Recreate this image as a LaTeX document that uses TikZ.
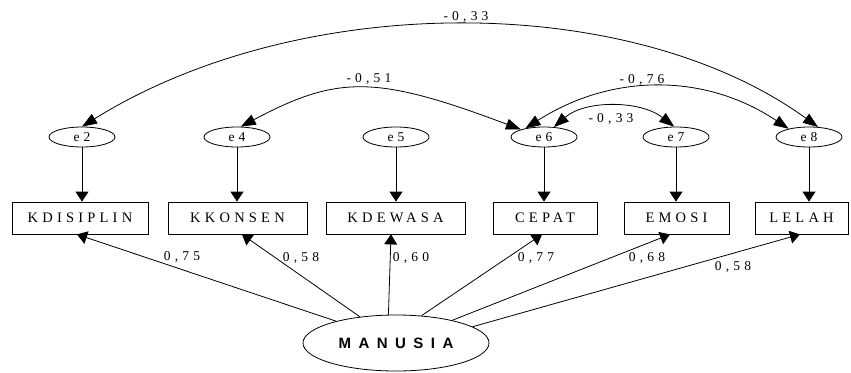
\documentclass[tikz,border=0pt]{standalone}
\usepackage{fontspec}
\setmainfont{Liberation Serif}
\newfontfamily\boxfont[LetterSpace=29]{Liberation Serif}
\newfontfamily\numfont[LetterSpace=31]{Liberation Serif}
\newfontfamily\latfont[LetterSpace=50]{Liberation Sans}
\usetikzlibrary{arrows.meta,shapes.geometric}
\begin{document}
\begin{tikzpicture}[x=1pt,y=-1pt,
  every path/.style={line width=0.8pt},
  obs/.style={draw, rectangle, minimum height=32pt, inner sep=0pt, font=\boxfont\fontsize{14.5}{16}\selectfont},
  err/.style={draw, ellipse, minimum width=66pt, minimum height=20pt, inner sep=0pt, font=\numfont\fontsize{13.5}{15}\selectfont},
  lat/.style={draw, ellipse, minimum width=186pt, minimum height=56pt, inner sep=0pt, font=\latfont\bfseries\fontsize{15}{17}\selectfont},
  lbl/.style={inner sep=0pt, font=\numfont\fontsize{13.5}{15}\selectfont},
  arr/.style={-{Triangle[length=10pt,width=13pt]}},
  darr/.style={{Triangle[length=15pt,width=11pt]}-{Triangle[length=15pt,width=11pt]}}
]
\useasboundingbox (0,0) rectangle (851,372);
% error terms
\node[err] (e2) at (82,137) {e2};
\node[err] (e4) at (237,137) {e4};
\node[err] (e5) at (396,137) {e5};
\node[err] (e6) at (544,137) {e6};
\node[err] (e7) at (676,137) {e7};
\node[err] (e8) at (809,137) {e8};
% observed
\node[obs, minimum width=136pt] (kd) at (80,218) {KDISIPLIN};
\node[obs, minimum width=139pt] (kk) at (237.5,218) {KKONSEN};
\node[obs, minimum width=139pt] (kw) at (395.5,218) {KDEWASA};
\node[obs, minimum width=104pt] (ce) at (545,218) {CEPAT};
\node[obs, minimum width=105pt] (em) at (676.5,218) {EMOSI};
\node[obs, minimum width=93pt] (le) at (801.5,218) {LELAH};
% latent
\node[lat] (M) at (396,343) {MANUSIA};
% error arrows
\draw[arr] (e2) -- (e2 |- kd.north);
\draw[arr] (e4) -- (e4 |- kk.north);
\draw[arr] (e5) -- (e5 |- kw.north);
\draw[arr] (e6) -- (e6 |- ce.north);
\draw[arr] (e7) -- (e7 |- em.north);
\draw[arr] (e8) -- (e8 |- le.north);
% loadings
\draw[arr] (M.160) -- ([xshift=-3pt]kd.south);
\draw[arr] (M.144) -- ([xshift=4.5pt]kk.south);
\draw[arr] (M.105) -- ([xshift=-4.5pt]kw.south);
\draw[arr] (M.47) -- ([xshift=-3pt]ce.south);
\draw[arr] (M.22) -- ([xshift=-6.5pt]em.south);
\draw[arr] (M.12) -- ([xshift=-1.5pt]le.south);
\node[lbl] (l1) at (182,257) {0,75};
\node[lbl] (l2) at (301,258) {0,58};
\node[lbl] (l3) at (411,258) {0,60};
\node[lbl] (l4) at (536,258) {0,77};
\node[lbl] (l5) at (647,258) {0,68};
\node[lbl] (l6) at (733,267) {0,58};
% correlations
\draw[darr] (e2.north) .. controls (300,-9) and (630,-9) .. (e8.48);
\node[lbl] (c1) at (466,17) {-0,33};
\draw[darr] (e4.70) .. controls (338,75) and (376,75) .. (e6.162);
\node[lbl] (c2) at (369,79) {-0,51};
\draw[darr] (e6.155) .. controls (612,73) and (705,73) .. (e8.158);
\node[lbl] (c3) at (642,80) {-0,76};
\draw[darr] (e6.45) .. controls (585,100) and (640,100) .. (e7.100);
\node[lbl] (c4) at (611,119) {-0,33};
\end{tikzpicture}
\end{document}
